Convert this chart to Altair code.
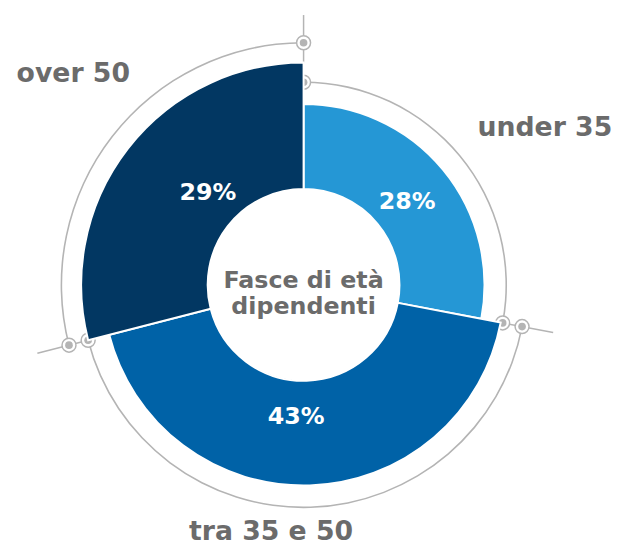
import math
import altair as alt
import pandas as pd

# ---- data ----
categories = ["under 35", "tra 35 e 50", "over 50"]
values = [28, 43, 29]
pct_labels = ["28%", "43%", "29%"]
center_title = ["Fasce di età", "dipendenti"]

# ---- style ----
colors = ["#2597d5", "#0062a7", "#023762"]
seg_outer = [183, 203, 225]
seg_inner = 97
ring_r = [205, 225, 245]
label_deg = [57, 187.5, 312.5]
label_r = [291, 252, 316]
pct_r = 134
pct_nudge_deg = [1, 5, 6]
tick_in = [225, 206, 225]    # radial tick at the start boundary of each category
tick_out = [273, 257, 278]

CX, CY = 299, 277
W, H = 605, 533
GRAY = "#b4b4b4"
TEXT_GRAY = "#6b6b6b"
FONT = "DejaVu Sans"

TS = alt.Scale(domain=[0, 100], range=[0, 2 * math.pi])

# ---- tables ----
ends = pd.Series(values).cumsum()
starts = ends - pd.Series(values)
seg = pd.DataFrame({
    "cat": categories,
    "value": values,
    "start": starts,
    "end": ends,
    "outer": seg_outer,
    "pct": pct_labels,
    "pmid": starts + pd.Series(values) / 2 + pd.Series(pct_nudge_deg) / 3.6,
    "ring_a": [r + 0.8 for r in ring_r],
    "ring_b": [r - 0.8 for r in ring_r],
    "lpos": [d / 3.6 for d in label_deg],
    "lr": label_r,
    "pr": [pct_r] * 3,
})

markers = pd.DataFrame({
    "cat": categories * 2,
    "pos": list(starts) + list(ends),
    "r": ring_r * 2,
})

ticks = pd.DataFrame({
    "pos": list(starts),
    "r1": tick_in,
    "r2": tick_out,
})

def px(rfield, pfield):
    return f"{CX} + datum.{rfield} * sin(2 * PI * datum.{pfield} / 100)"

def py(rfield, pfield):
    return f"{CY} - datum.{rfield} * cos(2 * PI * datum.{pfield} / 100)"

rings = alt.Chart(seg).mark_arc(x=CX, y=CY, color=GRAY).encode(
    theta=alt.Theta("start:Q", scale=TS, stack=None),
    theta2="end:Q",
    radius=alt.Radius("ring_a:Q", scale=None),
    radius2="ring_b:Q",
)

tick_layer = alt.Chart(ticks).transform_calculate(
    x1=px("r1", "pos"), y1=py("r1", "pos"),
    x2=px("r2", "pos"), y2=py("r2", "pos"),
).mark_rule(color=GRAY, strokeWidth=1.5).encode(
    x=alt.X("x1:Q", scale=None), y=alt.Y("y1:Q", scale=None),
    x2="x2:Q", y2="y2:Q",
)

marker_base = alt.Chart(markers).transform_calculate(
    mx=px("r", "pos"), my=py("r", "pos"),
)
ring_markers = marker_base.mark_point(
    shape="circle", size=200, filled=True, fill="white", stroke=GRAY,
    strokeWidth=1.5, opacity=1, fillOpacity=1,
).encode(x=alt.X("mx:Q", scale=None), y=alt.Y("my:Q", scale=None))
dot_markers = marker_base.mark_point(
    shape="circle", size=60, filled=True, color=GRAY, opacity=1,
).encode(x=alt.X("mx:Q", scale=None), y=alt.Y("my:Q", scale=None))

segments = alt.Chart(seg).mark_arc(x=CX, y=CY, stroke="white", strokeWidth=2).encode(
    theta=alt.Theta("start:Q", scale=TS, stack=None),
    theta2="end:Q",
    radius=alt.Radius("outer:Q", scale=None),
    radius2=alt.value(seg_inner),
    color=alt.Color("cat:N", scale=alt.Scale(domain=categories, range=colors), legend=None),
)

pct_text = alt.Chart(seg).mark_text(
    x=CX, y=CY, font=FONT, fontSize=24, fontWeight="bold", color="white",
    align="center", baseline="middle",
).encode(
    theta=alt.Theta("pmid:Q", scale=TS, stack=None),
    radius=alt.Radius("pr:Q", scale=None),
    text="pct:N",
)

cat_text = alt.Chart(seg).mark_text(
    x=CX, y=CY, font=FONT, fontSize=27, fontWeight="bold", color=TEXT_GRAY,
    align="center", baseline="middle",
).encode(
    theta=alt.Theta("lpos:Q", scale=TS, stack=None),
    radius=alt.Radius("lr:Q", scale=None),
    text="cat:N",
)

center_text = alt.Chart(pd.DataFrame({"k": [0]})).mark_text(
    text=center_title, font=FONT, fontSize=24, fontWeight="bold", color=TEXT_GRAY,
    align="center", baseline="middle", lineHeight=26,
).encode(x=alt.value(CX), y=alt.value(CY - 4))

chart = alt.layer(
    rings, tick_layer, ring_markers, dot_markers, segments, pct_text, cat_text, center_text
).properties(width=W, height=H, padding=0).configure_view(stroke=None)

chart.save("out.html", embed_options={"renderer": "svg", "actions": False})
